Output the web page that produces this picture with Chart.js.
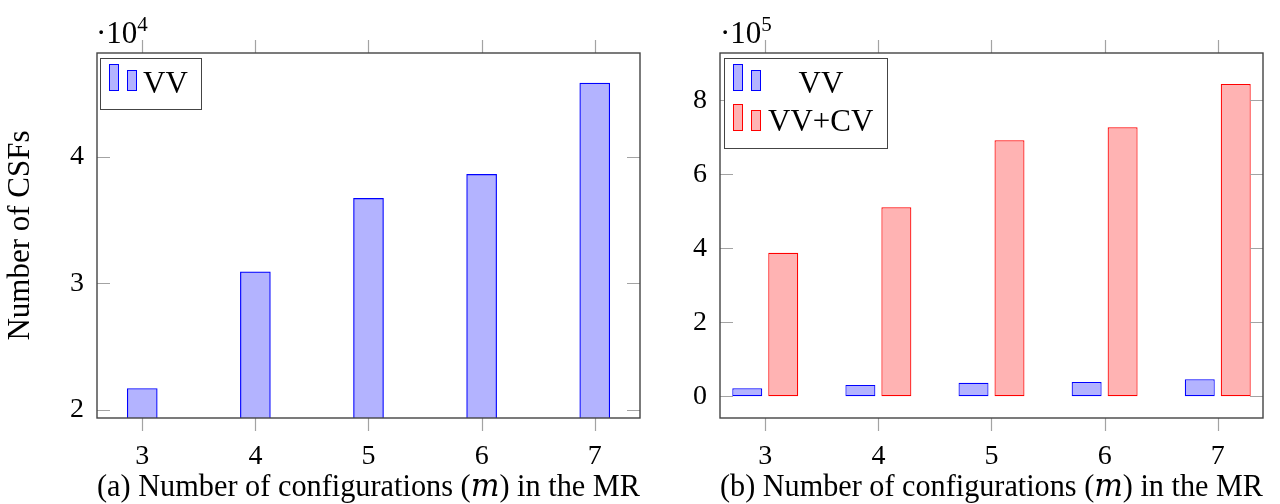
<!DOCTYPE html>
<html>
<head>
<meta charset="utf-8">
<script src="https://cdn.jsdelivr.net/npm/chart.js@4.4.1/dist/chart.umd.min.js"></script>
<style>
  html, body { margin: 0; padding: 0; background: #fff; }
  #wrap { position: relative; width: 1280px; height: 504px; overflow: hidden;
          font-family: 'Liberation Serif', 'DejaVu Serif', serif; color: #000; }
  .pane { position: absolute; top: 0; }
  .exp { position: absolute; font-size: 31px; line-height: 1; white-space: nowrap; }
  .exp sup { font-size: 21px; line-height: 0; vertical-align: 12px; }
  .legend { position: absolute; box-sizing: border-box; border: 1.3px solid #444; background: #fff; }
  .legend .ico { position: absolute; box-sizing: border-box; width: 10px; border: 1.3px solid; }
  .legend .txt { position: absolute; font-size: 31px; line-height: 1; white-space: nowrap; }
  .blue { background: rgb(179,179,255); border-color: #0000ff !important; }
  .red { background: rgb(255,179,179); border-color: #ff0000 !important; }
</style>
</head>
<body>
<div id="wrap">
  <div class="pane" style="left:0"><canvas id="chartA" width="660" height="504"></canvas></div>
  <div class="pane" style="left:660px"><canvas id="chartB" width="620" height="504"></canvas></div>

  <div class="exp" style="left:96px;top:17px">·10<sup>4</sup></div>
  <div class="exp" style="left:720px;top:17px">·10<sup>5</sup></div>

  <div class="legend" style="left:100px;top:58px;width:102px;height:52px">
    <div class="ico blue" style="left:8px;top:5px;height:27px"></div>
    <div class="ico blue" style="left:26px;top:11px;height:21px"></div>
    <div class="txt" style="left:42px;top:8px">VV</div>
  </div>

  <div class="legend" style="left:724px;top:58px;width:164px;height:91px">
    <div class="ico blue" style="left:8px;top:5px;height:27px"></div>
    <div class="ico blue" style="left:26px;top:11px;height:21px"></div>
    <div class="txt" style="left:43px;top:8px;width:106px;text-align:center">VV</div>
    <div class="ico red" style="left:8px;top:45px;height:27px"></div>
    <div class="ico red" style="left:26px;top:51px;height:21px"></div>
    <div class="txt" style="left:43px;top:46px">VV+CV</div>
  </div>
</div>

<script>
// number of configurations in the MR
const configs = [3, 4, 5, 6, 7];
// number of CSFs
const vvCSFs = [21700, 30900, 36700, 38600, 45800];
const vvcvCSFs = [388000, 511000, 692000, 727000, 844000];
// tick values
const ticksA = [20000, 30000, 40000];
const ticksB = [0, 200000, 400000, 600000, 800000];

const serif = "'Liberation Serif', 'DejaVu Serif', serif";
const blueFill = 'rgb(179,179,255)';
const redFill = 'rgb(255,179,179)';

// pgfplots style frame: box round the plot, ticks in on y, out on x
const pgfFrame = {
    id: 'pgfFrame',
    afterDatasetsDraw(chart) {
        const { ctx, chartArea: a, scales: { x, y } } = chart;
        ctx.save();
        ctx.strokeStyle = '#a3a3a3';
        ctx.lineWidth = 1.2;
        ctx.beginPath();
        y.ticks.forEach(t => {
            const py = Math.round(y.getPixelForValue(t.value)) + 0.5;
            ctx.moveTo(a.left, py); ctx.lineTo(a.left + 13, py);
            ctx.moveTo(a.right - 13, py); ctx.lineTo(a.right, py);
        });
        x.ticks.forEach(t => {
            const px = Math.round(x.getPixelForValue(t.value)) + 0.5;
            ctx.moveTo(px, a.bottom); ctx.lineTo(px, a.bottom + 13);
            ctx.moveTo(px, a.top - 13); ctx.lineTo(px, a.top);
        });
        ctx.stroke();
        ctx.strokeStyle = '#444';
        ctx.lineWidth = 1.4;
        ctx.strokeRect(a.left, a.top, a.right - a.left, a.bottom - a.top);
        ctx.restore();
    }
};

function points(values) {
    return configs.map((m, i) => ({ x: m, y: values[i] }));
}

function barOptions(o) {
    return {
        responsive: false,
        animation: false,
        layout: { padding: { top: 53, right: o.padRight, left: 0, bottom: 0 } },
        plugins: { legend: { display: false }, tooltip: { enabled: false } },
        scales: {
            x: {
                type: 'linear',
                min: 2.6,
                max: 7.4,
                offset: false,
                grid: { display: false, drawTicks: false },
                border: { display: false },
                afterBuildTicks: s => { s.ticks = configs.map(v => ({ value: v })); },
                afterFit: s => { s.height = 86; },
                ticks: {
                    autoSkip: false, maxRotation: 0, padding: 22, color: '#000',
                    font: { family: serif, size: 28 },
                    callback: v => String(v)
                },
                title: {
                    display: true, text: o.caption, color: '#000',
                    font: { family: serif, size: 32, lineHeight: 1 },
                    padding: { top: 0, bottom: 0 }
                }
            },
            y: {
                min: o.yMin,
                max: o.yMax,
                grid: { display: false, drawTicks: false },
                border: { display: false },
                afterBuildTicks: s => { s.ticks = o.yTicks.map(v => ({ value: v })); },
                afterFit: s => { s.width = o.axisWidth; },
                ticks: {
                    padding: 13, color: '#000',
                    font: { family: serif, size: 28 },
                    callback: v => String(v / o.scale)
                },
                title: {
                    display: !!o.yTitle, text: o.yTitle || '', color: '#000',
                    font: { family: serif, size: 31, lineHeight: 1 },
                    padding: { top: 5, bottom: 0 }
                }
            }
        }
    };
}

new Chart(document.getElementById('chartA'), {
    type: 'bar',
    data: {
        datasets: [{
            label: 'VV',
            data: points(vvCSFs),
            backgroundColor: blueFill,
            borderColor: '#0000ff',
            borderWidth: 1.2,
            borderSkipped: false,
            barThickness: 30
        }]
    },
    options: barOptions({
        padRight: 20, axisWidth: 97,
        yMin: 19370, yMax: 48180, yTicks: ticksA, scale: 1e4,
        yTitle: 'Number of CSFs',
        caption: '(a) Number of configurations (𝑚) in the MR'
    }),
    plugins: [pgfFrame]
});

new Chart(document.getElementById('chartB'), {
    type: 'bar',
    data: {
        datasets: [{
            label: 'VV',
            data: points(vvCSFs),
            backgroundColor: blueFill,
            borderColor: '#0000ff',
            borderWidth: 1.2,
            borderSkipped: false,
            categoryPercentage: 0.636,
            barPercentage: 0.833
        }, {
            label: 'VV+CV',
            data: points(vvcvCSFs),
            backgroundColor: redFill,
            borderColor: '#ff0000',
            borderWidth: 1.2,
            borderSkipped: false,
            categoryPercentage: 0.636,
            barPercentage: 0.833
        }]
    },
    options: barOptions({
        padRight: 17, axisWidth: 60,
        yMin: -58600, yMax: 927900, yTicks: ticksB, scale: 1e5,
        caption: '(b) Number of configurations (𝑚) in the MR'
    }),
    plugins: [pgfFrame]
});
</script>
</body>
</html>
